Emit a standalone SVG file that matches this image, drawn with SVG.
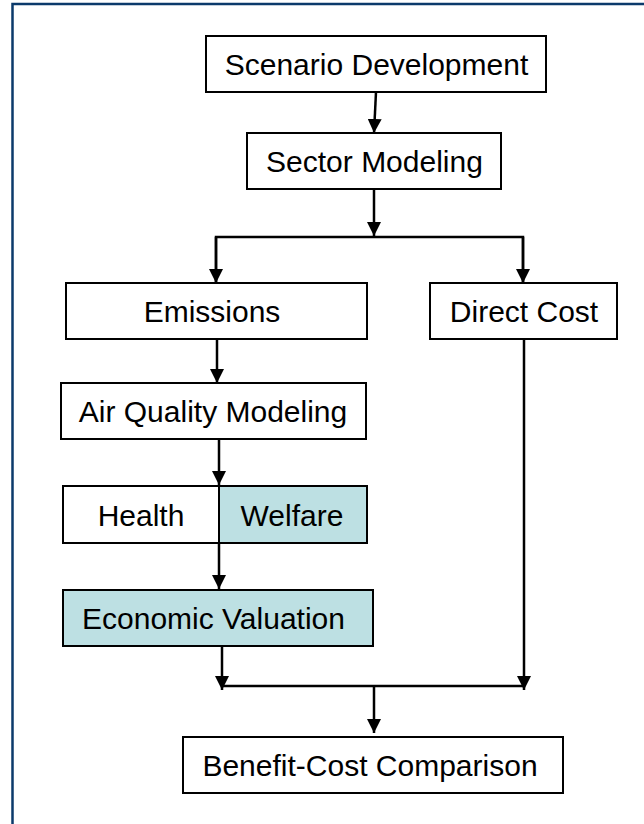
<svg xmlns="http://www.w3.org/2000/svg" width="644" height="824" viewBox="0 0 644 824">
<style>
.box{fill:#ffffff;stroke:#000;stroke-width:2}
.teal{fill:#bde0e3}
.lbl{font-family:"Liberation Sans",Arial,sans-serif;font-size:30px;fill:#000;text-anchor:middle}
.ln{fill:none;stroke:#000;stroke-width:2.5}
</style>
<defs>
<marker id="ah" viewBox="0 0 14 14" refX="14" refY="7" markerWidth="14" markerHeight="14" markerUnits="userSpaceOnUse" orient="auto">
<path d="M0,0 L14,7 L0,14 Z" fill="#000"/>
</marker>
</defs>
<rect x="0" y="0" width="644" height="824" fill="#ffffff"/>
<rect x="12.5" y="4" width="700" height="900" fill="none" stroke="#0b3a6b" stroke-width="2.5"/>
<g id="connectors">
<line class="ln" x1="376" y1="92" x2="374" y2="133" marker-end="url(#ah)"/>
<line class="ln" x1="374" y1="189" x2="374" y2="236" marker-end="url(#ah)"/>
<polyline class="ln" points="216,282 216,237 523,237 523,282"/>
<line class="ln" x1="216" y1="237" x2="216" y2="283" marker-end="url(#ah)"/>
<line class="ln" x1="523" y1="237" x2="523" y2="283" marker-end="url(#ah)"/>
<line class="ln" x1="217" y1="339" x2="217" y2="383" marker-end="url(#ah)"/>
<line class="ln" x1="219" y1="439" x2="219" y2="485" marker-end="url(#ah)"/>
<line class="ln" x1="219" y1="543" x2="219" y2="589" marker-end="url(#ah)"/>
<line class="ln" x1="222" y1="646" x2="222" y2="690" marker-end="url(#ah)"/>
<line class="ln" x1="524" y1="339" x2="524" y2="690" marker-end="url(#ah)"/>
<line class="ln" x1="222" y1="686" x2="524" y2="686"/>
<line class="ln" x1="374" y1="686" x2="374" y2="733" marker-end="url(#ah)"/>
</g>
<g id="scenario">
<rect class="box" x="206" y="36" width="340" height="56"/>
<text class="lbl" x="376.5" y="75">Scenario Development</text>
</g>
<g id="sector">
<rect class="box" x="247" y="133" width="254" height="56"/>
<text class="lbl" x="374.5" y="172">Sector Modeling</text>
</g>
<g id="emissions">
<rect class="box" x="66" y="283" width="301" height="56"/>
<text class="lbl" x="212" y="322">Emissions</text>
</g>
<g id="directcost">
<rect class="box" x="430" y="283" width="187" height="56"/>
<text class="lbl" x="524" y="322">Direct Cost</text>
</g>
<g id="airquality">
<rect class="box" x="61" y="383" width="305" height="56"/>
<text class="lbl" x="213" y="422">Air Quality Modeling</text>
</g>
<g id="healthwelfare">
<rect class="box" x="63" y="486" width="304" height="57"/>
<rect class="teal" x="219" y="487" width="147" height="55"/>
<rect x="63" y="486" width="304" height="57" fill="none" stroke="#000" stroke-width="2"/>
<line x1="219" y1="486" x2="219" y2="543" stroke="#000" stroke-width="2"/>
<text class="lbl" x="141" y="526">Health</text>
<text class="lbl" x="292" y="526">Welfare</text>
</g>
<g id="valuation">
<rect class="box teal" x="63" y="590" width="310" height="56"/>
<text class="lbl" x="213.5" y="629">Economic Valuation</text>
</g>
<g id="comparison">
<rect class="box" x="183" y="737" width="380" height="56"/>
<text class="lbl" x="370" y="776">Benefit-Cost Comparison</text>
</g>
</svg>
